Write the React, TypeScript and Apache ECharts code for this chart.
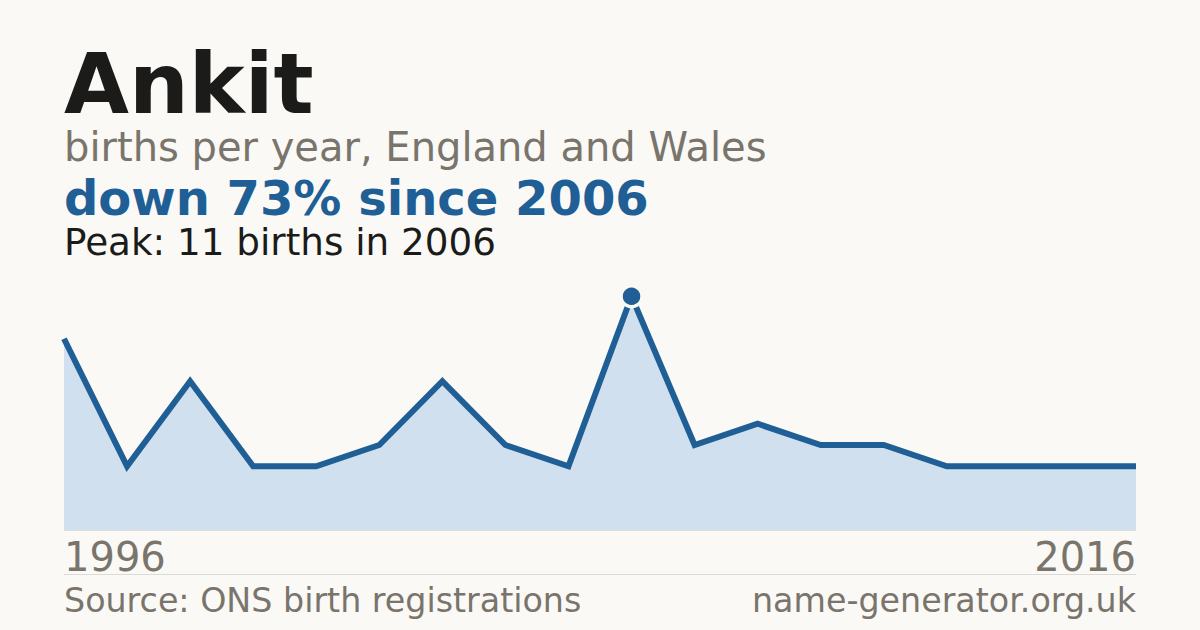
import React, { useEffect, useRef } from "react";
import * as echarts from "echarts";

const years = ["1996", "1997", "1998", "1999", "2000", "2001", "2002", "2003", "2005", "2006", "2007", "2008", "2009", "2010", "2011", "2012", "2014", "2016"];
const births = [9, 3, 7, 3, 3, 4, 7, 4, 3, 11, 4, 5, 4, 4, 3, 3, 3, 3];
const peakYear = "2006";

const FONT = "DejaVu Sans";
const BG = "#faf9f5";
const BLUE = "#1f5f96";
const GREY = "#79746c";

export default function App() {
  const ref = useRef<HTMLDivElement>(null);
  useEffect(() => {
    if (!ref.current) return;
    const chart = echarts.init(ref.current, null, { renderer: "svg" });
    const peakIdx = years.indexOf(peakYear);
    const peak = births[peakIdx];
    const last = births[births.length - 1];
    const pct = Math.round((1 - last / peak) * 100);
    const lastIdx = years.length - 1;
    chart.setOption({
      animation: false,
      backgroundColor: BG,
      grid: { left: 64, right: 64, top: 275, bottom: 100 },
      xAxis: {
        type: "category",
        data: years,
        boundaryGap: false,
        axisLine: { show: true, lineStyle: { color: "#e0ded8", width: 1 } },
        axisTick: { show: false },
        axisLabel: {
          interval: (i: number) => i === 0 || i === lastIdx,
          showMinLabel: true,
          showMaxLabel: true,
          alignMinLabel: "left",
          alignMaxLabel: "right",
          color: GREY,
          fontFamily: FONT,
          fontSize: 40,
          lineHeight: 40,
          margin: 7,
        },
        splitLine: { show: false },
      },
      yAxis: {
        type: "value",
        min: 0,
        max: 12,
        show: false,
        splitLine: { show: false },
      },
      series: [
        {
          type: "line",
          data: births.map((v, i) =>
            i === peakIdx
              ? {
                  value: v,
                  symbol: "circle",
                  symbolSize: 21,
                  itemStyle: { color: BLUE, borderColor: BG, borderWidth: 3.5 },
                }
              : { value: v, symbol: "none" }
          ),
          lineStyle: { color: BLUE, width: 6, join: "miter" },
          areaStyle: { color: "#d0e0ef", opacity: 1 },
          itemStyle: { color: BLUE },
          showSymbol: true,
          clip: false,
          z: 3,
        },
      ],
      graphic: [
        {
          type: "text",
          left: 64,
          top: 84 - 42,
          style: { text: "Ankit", fontFamily: FONT, fontWeight: "bold", fontSize: 84, fill: "#1b1b1a" },
        },
        {
          type: "text",
          x: 64,
          y: 147,
          style: {
            text: "births per year, England and Wales",
            fontFamily: FONT,
            fontSize: 40,
            fill: GREY,
            verticalAlign: "middle",
          },
        },
        {
          type: "text",
          x: 64,
          y: 198,
          style: {
            text: `down ${pct}% since ${peakYear}`,
            fontFamily: FONT,
            fontWeight: "bold",
            fontSize: 48,
            fill: BLUE,
            verticalAlign: "middle",
          },
        },
        {
          type: "text",
          x: 64,
          y: 242,
          style: {
            text: `Peak: ${peak} births in ${peakYear}`,
            fontFamily: FONT,
            fontSize: 37.3,
            fill: "#1b1b1a",
            verticalAlign: "middle",
          },
        },
        {
          type: "line",
          shape: { x1: 64, y1: 574.5, x2: 1136, y2: 574.5 },
          style: { stroke: "#dcdad4", lineWidth: 1 },
        },
        {
          type: "text",
          x: 64,
          y: 600,
          style: {
            text: "Source: ONS birth registrations",
            fontFamily: FONT,
            fontSize: 33.3,
            fill: GREY,
            verticalAlign: "middle",
          },
        },
        {
          type: "text",
          x: 1136,
          y: 600,
          style: {
            text: "name-generator.org.uk",
            fontFamily: FONT,
            fontSize: 33.3,
            fill: GREY,
            align: "right",
            verticalAlign: "middle",
          },
        },
      ],
    });
    return () => chart.dispose();
  }, []);
  return (
    <div
      ref={ref}
      style={{ position: "absolute", left: 0, top: 0, width: 1200, height: 630 }}
    />
  );
}
